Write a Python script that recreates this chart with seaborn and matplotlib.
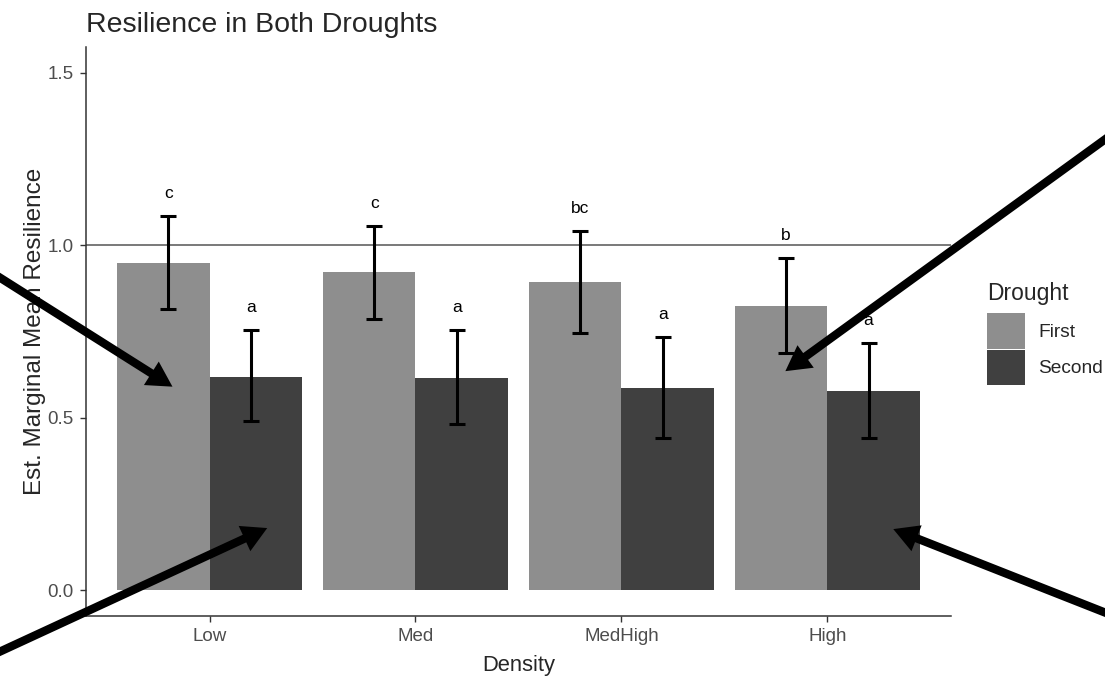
import seaborn as sns
import matplotlib.pyplot as plt
import pandas as pd

# values
density = ['Low', 'Med', 'MedHigh', 'High']
drought = ['First', 'Second']
first_mean = [0.948, 0.922, 0.893, 0.823]
second_mean = [0.617, 0.614, 0.586, 0.577]
first_lower = [0.814, 0.786, 0.745, 0.687]
first_upper = [1.084, 1.055, 1.040, 0.962]
second_lower = [0.490, 0.481, 0.440, 0.440]
second_upper = [0.754, 0.754, 0.733, 0.716]
first_letters = ['c', 'c', 'bc', 'b']
second_letters = ['a', 'a', 'a', 'a']

df = pd.DataFrame({
    'Density': density * 2,
    'Drought': ['First'] * 4 + ['Second'] * 4,
    'emmean': first_mean + second_mean,
    'lower': first_lower + second_lower,
    'upper': first_upper + second_upper,
    'letter': first_letters + second_letters,
})

sns.set_style('white')
plt.rcParams['font.family'] = ['Liberation Sans', 'DejaVu Sans']

fig = plt.figure(figsize=(11.05, 6.77), dpi=100)
ax = fig.add_axes([0.0778, 0.0901, 0.7828, 0.8405])

sns.barplot(data=df, x='Density', y='emmean', hue='Drought', order=density,
            hue_order=drought, palette=['#8E8E8E', '#404040'], width=0.9,
            errorbar=None, linewidth=0, saturation=1, ax=ax)

# error bars and letters: dodged a bit narrower than the bars (0.8 vs 0.9)
bars = [p for p in ax.patches if p.get_height() > 0][:8]
for p, (_, row) in zip(bars, df.iterrows()):
    xc = p.get_x() + p.get_width() / 2
    grp = round(xc)
    xc = grp + (xc - grp) * 0.8 / 0.9
    ax.errorbar(xc, row['emmean'],
                yerr=[[row['emmean'] - row['lower']], [row['upper'] - row['emmean']]],
                fmt='none', ecolor='black', elinewidth=2.2, capsize=6, capthick=2.2,
                zorder=3)
    ax.text(xc, row['upper'] + 0.045, row['letter'], ha='center', va='bottom',
            fontsize=12.5, color='black')

ax.axhline(1.0, color='#555555', linewidth=1.1, zorder=2)

ax.set_xlim(-0.6, 3.6)
ax.set_ylim(-0.075, 1.575)
ax.set_yticks([0.0, 0.5, 1.0, 1.5])
ax.set_yticklabels(['0.0', '0.5', '1.0', '1.5'])
ax.tick_params(axis='both', labelsize=13.5, labelcolor='#4D4D4D', color='#333333',
               length=4.2, width=1, direction='out', left=True, bottom=True, pad=4.5)
for side in ['top', 'right']:
    ax.spines[side].set_visible(False)
for side in ['left', 'bottom']:
    ax.spines[side].set_color('#333333')
    ax.spines[side].set_linewidth(1.1)

ax.set_xlabel('Density', fontsize=15.8, labelpad=7)
ax.set_ylabel('Est. Marginal Mean Resilience', fontsize=17.5, labelpad=1)
ax.set_title('Resilience in Both Droughts', loc='left', fontsize=20.5, pad=11)

sns.move_legend(ax, 'center left', bbox_to_anchor=(1.022, 0.496), frameon=False,
                title='Drought', fontsize=13.8, title_fontsize=16.5,
                handlelength=1.95, handleheight=2.5, handletextpad=0.7,
                labelspacing=0.05, alignment='left')
leg = ax.get_legend()
leg._legend_box.sep = 5.5  # a bit more room under the legend title

# the black arrows laid over the figure
arrows = [
    ((-0.18, 0.59), (-0.005, 0.595)),
    ((0.28, 0.18), (-0.01, 0.03)),
    ((2.796, 0.635), (1.005, 0.80)),
    ((3.32, 0.177), (1.005, 0.092)),
]
for tip, tail in arrows:
    ax.annotate('', xy=tip, xycoords='data', xytext=tail, textcoords='figure fraction',
                arrowprops=dict(facecolor='black', edgecolor='black', linewidth=0,
                                width=6, headwidth=20, headlength=18, shrink=0),
                annotation_clip=False, zorder=5)

fig.savefig('out.png', dpi=100)
